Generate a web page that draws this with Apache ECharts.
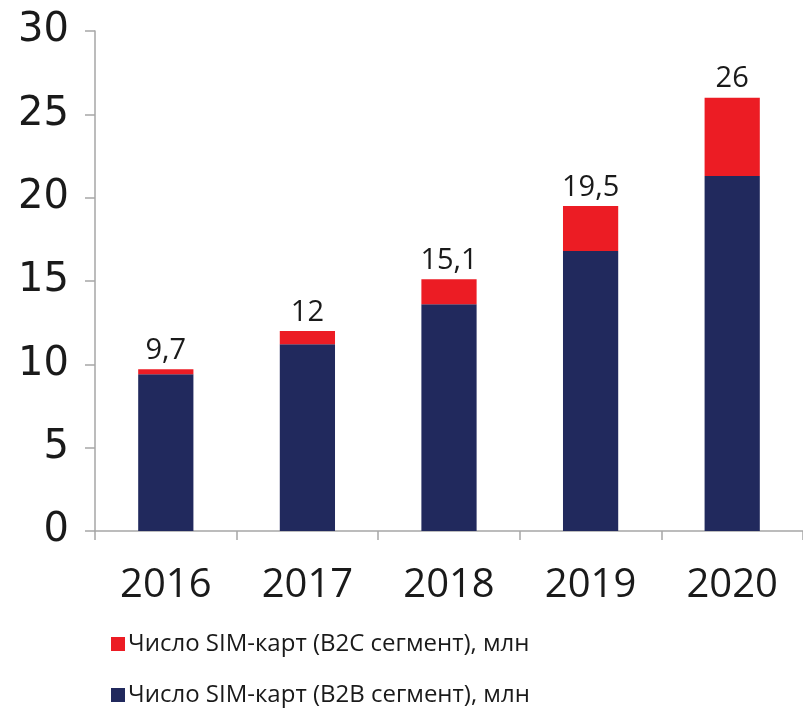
<!DOCTYPE html>
<html><head><meta charset="utf-8">
<script src="https://cdn.jsdelivr.net/npm/echarts@6/dist/echarts.min.js"></script>
<style>html,body{margin:0;padding:0;background:#fff}#c{width:803px;height:712px}</style>
</head><body><div id="c"></div>
<script>
const categories = ['2016', '2017', '2018', '2019', '2020'];
const b2b = [9.4, 11.2, 13.6, 16.8, 21.3];
const b2c = [0.3, 0.8, 1.5, 2.7, 4.7];
const totalLabels = ['9,7', '12', '15,1', '19,5', '26'];
const yTicks = [0, 5, 10, 15, 20, 25, 30];
const seriesNames = ['Число SIM-карт (B2C сегмент), млн', 'Число SIM-карт (B2B сегмент), млн'];

const chart = echarts.init(document.getElementById('c'), null, {renderer: 'canvas'});
chart.setOption({
  animation: false,
  backgroundColor: '#ffffff',
  grid: {left: 95, top: 31, width: 712, height: 500, containLabel: false},
  legend: {
    orient: 'vertical', left: 106, top: 627, itemGap: 27,
    itemWidth: 14, itemHeight: 14, icon: 'rect',
    data: [seriesNames[0], seriesNames[1]],
    textStyle: {fontFamily: 'Open Sans', fontSize: 24, color: '#1a1a1a', padding: [0, 0, 0, -2]}
  },
  xAxis: {
    type: 'category', data: categories,
    axisLine: {lineStyle: {color: '#a6a6a6', width: 1.5}},
    axisTick: {show: true, length: 9, lineStyle: {color: '#a6a6a6', width: 1.5}},
    axisLabel: {fontFamily: 'Open Sans', fontSize: 40, color: '#1a1a1a', margin: 35}
  },
  yAxis: {
    type: 'value', min: yTicks[0], max: yTicks[yTicks.length - 1], interval: 5,
    splitLine: {show: false},
    axisLine: {show: true, lineStyle: {color: '#a6a6a6', width: 1.5}},
    axisTick: {show: true, length: 10, lineStyle: {color: '#a6a6a6', width: 1.5}},
    axisLabel: {fontFamily: 'DejaVu Sans', fontSize: 40, color: '#1a1a1a', margin: 26}
  },
  series: [
    {
      name: seriesNames[1], type: 'bar', stack: 'total', data: b2b,
      barWidth: '39%', itemStyle: {color: '#21295d'}
    },
    {
      name: seriesNames[0], type: 'bar', stack: 'total', data: b2c,
      barWidth: '39%', itemStyle: {color: '#ec1c24'},
      label: {
        show: true, position: 'top', distance: 4,
        fontFamily: 'Open Sans', fontSize: 29, color: '#1a1a1a',
        formatter: p => totalLabels[p.dataIndex]
      }
    }
  ]
});
</script></body></html>
